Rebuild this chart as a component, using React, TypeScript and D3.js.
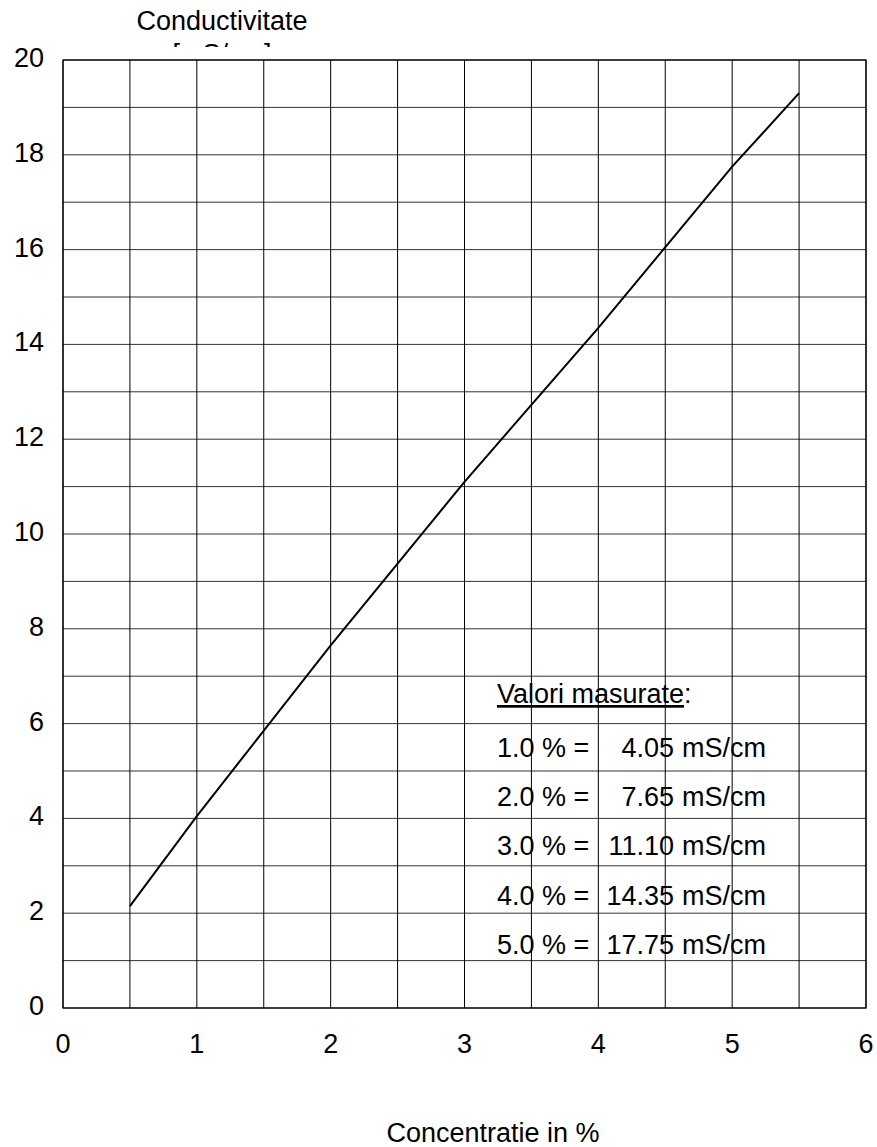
import React from "react";
import * as d3 from "d3";

const concentration = [0.5, 1, 2, 3, 4, 5, 5.5];
const conductivity = [2.15, 4.05, 7.65, 11.1, 14.35, 17.75, 19.3];

const measuredConc = ["1.0", "2.0", "3.0", "4.0", "5.0"];
const measuredVal = ["4.05", "7.65", "11.10", "14.35", "17.75"];

const xTicks = [0, 1, 2, 3, 4, 5, 6];
const yTicks = [0, 2, 4, 6, 8, 10, 12, 14, 16, 18, 20];
const xGrid = d3.range(0, 6.01, 0.5);
const yGrid = d3.range(0, 20.01, 1);

const W = 877;
const H = 1147;
const left = 63;
const right = 866;
const top = 60;
const bottom = 1008;
const FS = 27;
const FONT = "'Liberation Sans', Arial, sans-serif";

export default function App() {
  const x = d3.scaleLinear().domain([0, 6]).range([left, right]);
  const y = d3.scaleLinear().domain([0, 20]).range([bottom, top]);
  const pts: [number, number][] = concentration.map((c, i) => [c, conductivity[i]]);
  const line = d3
    .line<[number, number]>()
    .x((d) => x(d[0]))
    .y((d) => y(d[1]));

  return (
    <div style={{ position: "absolute", left: 0, top: 0 }}>
      <svg width={W} height={H} style={{ display: "block", background: "#fff" }} fontFamily={FONT}>
        <text x={222} y={30} fontSize={FS} textAnchor="middle" fill="#000">
          Conductivitate
        </text>
        <text x={222} y={63} fontSize={FS} textAnchor="middle" fill="#000">
          [mS/cm]
        </text>
        <rect x={left} y={47} width={right - left} height={bottom - 47} fill="#fff" />
        {yGrid.map((v) => (
          <line key={"h" + v} x1={left} x2={right} y1={y(v)} y2={y(v)} stroke="#333" strokeWidth={1} />
        ))}
        {xGrid.map((v) => (
          <line key={"v" + v} x1={x(v)} x2={x(v)} y1={top} y2={bottom} stroke="#000" strokeWidth={1} />
        ))}
        <rect x={left} y={top} width={right - left} height={bottom - top} fill="none" stroke="#000" strokeWidth={1.2} />
        <path d={line(pts) || ""} fill="none" stroke="#000" strokeWidth={2} />
        {yTicks.map((v) => (
          <text key={"yt" + v} x={44} y={y(v) + 7} fontSize={FS} textAnchor="end" fill="#000">
            {v}
          </text>
        ))}
        {xTicks.map((v) => (
          <text key={"xt" + v} x={x(v)} y={1053} fontSize={FS} textAnchor="middle" fill="#000">
            {v}
          </text>
        ))}
        <text x={493} y={1142} fontSize={FS} textAnchor="middle" fill="#000">
          Concentratie in %
        </text>
        <text x={497} y={703} fontSize={FS} fill="#000">
          <tspan textDecoration="underline">Valori masurate</tspan>:
        </text>
        {measuredConc.map((c, i) => (
          <g key={"m" + i}>
            <text x={497} y={757 + i * 49.2} fontSize={FS} fill="#000">
              {c + " % ="}
            </text>
            <text x={674} y={757 + i * 49.2} fontSize={FS} textAnchor="end" fill="#000">
              {measuredVal[i]}
            </text>
            <text x={682} y={757 + i * 49.2} fontSize={FS} fill="#000">
              mS/cm
            </text>
          </g>
        ))}
      </svg>
    </div>
  );
}
